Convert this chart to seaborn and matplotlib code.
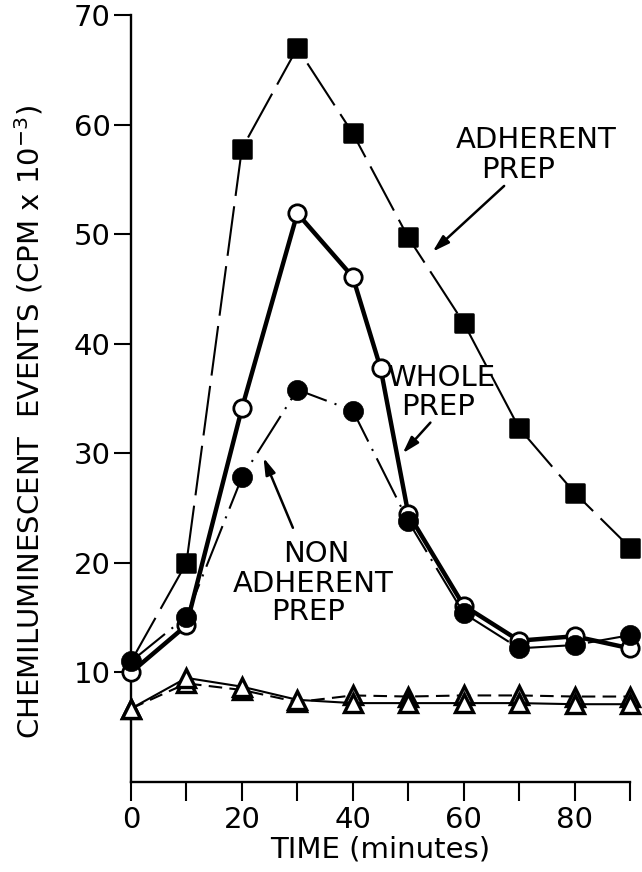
import matplotlib
matplotlib.use("Agg")
import matplotlib.pyplot as plt
from matplotlib.markers import MarkerStyle
import pandas as pd
import seaborn as sns

# Sampling times (minutes)
minutes = [0, 10, 20, 30, 40, 50, 60, 70, 80, 90]
whole_minutes = [0, 10, 20, 30, 40, 45, 50, 60, 70, 80, 90]

# Chemiluminescent events (CPM x 10^-3)
adherent = [11.0, 20.0, 57.8, 67.0, 59.2, 49.7, 41.9, 32.3, 26.4, 21.4]
whole = [10.0, 14.3, 34.1, 51.9, 46.1, 37.8, 24.5, 16.1, 12.9, 13.3, 12.2]
non_adherent = [11.0, 15.1, 27.8, 35.8, 33.9, 23.8, 15.4, 12.2, 12.5, 13.4]
control_solid = [6.7, 9.5, 8.7, 7.5, 7.2, 7.2, 7.2, 7.2, 7.1, 7.1]
control_dashed = [6.7, 9.0, 8.4, 7.3, 7.9, 7.8, 7.9, 7.9, 7.8, 7.8]

x_ticks = [0, 10, 20, 30, 40, 50, 60, 70, 80, 90]
x_tick_labels = ["0", "", "20", "", "40", "", "60", "", "80", ""]
y_ticks = [10, 20, 30, 40, 50, 60, 70]
y_tick_labels = ["10", "20", "30", "40", "50", "60", "70"]

sns.set_style("ticks")
plt.rcParams["font.family"] = ["DejaVu Sans"]
plt.rcParams["text.color"] = "black"
plt.rcParams["axes.labelcolor"] = "black"

fig = plt.figure(figsize=(6.42, 8.72), dpi=100)
ax = fig.add_axes([131 / 642, 1 - 782 / 872, 499 / 642, 767 / 872])

ink = "black"
common = dict(ax=ax, color=ink, errorbar=None, clip_on=False)

df_adh = pd.DataFrame({"t": minutes, "v": adherent})
df_whole = pd.DataFrame({"t": whole_minutes, "v": whole})
df_non = pd.DataFrame({"t": minutes, "v": non_adherent})
df_cs = pd.DataFrame({"t": minutes, "v": control_solid})
df_cd = pd.DataFrame({"t": minutes, "v": control_dashed})

# control preparations (open triangles)
sns.lineplot(data=df_cd, x="t", y="v", linewidth=1.5, linestyle=(0, (6.5, 3.5)),
             marker="^", markersize=13.5, markerfacecolor="white",
             markeredgecolor=ink, markeredgewidth=2.4, zorder=3, **common)
sns.lineplot(data=df_cs, x="t", y="v", linewidth=1.5, linestyle="-",
             marker="^", markersize=13.5, markerfacecolor="white",
             markeredgecolor=ink, markeredgewidth=2.4, zorder=3, **common)

# adherent prep (filled squares, long dashes)
sns.lineplot(data=df_adh, x="t", y="v", linewidth=1.5, linestyle=(0, (24, 5)),
             marker=MarkerStyle("s", joinstyle="round"), markersize=12.5,
             markerfacecolor=ink, markeredgecolor=ink, markeredgewidth=1.8,
             markevery=slice(1, None), zorder=4, **common)

# whole prep (open circles, heavy solid line)
sns.lineplot(data=df_whole, x="t", y="v", linewidth=3.2, linestyle="-",
             marker="o", markersize=12.5, markerfacecolor="white",
             markeredgecolor=ink, markeredgewidth=2.0, zorder=5, **common)

# non-adherent prep (filled circles, dash-dot)
sns.lineplot(data=df_non, x="t", y="v", linewidth=1.5, linestyle=(0, (21, 4, 1, 4)),
             marker="o", markersize=14.5, markerfacecolor=ink,
             markeredgecolor=ink, markeredgewidth=0.5, zorder=6, **common)

ax.set_xlim(0, 90)
ax.set_ylim(0, 70)
ax.set_xticks(x_ticks)
ax.set_xticklabels(x_tick_labels)
ax.set_yticks(y_ticks)
ax.set_yticklabels(y_tick_labels)
sns.despine(ax=ax)
for side in ("left", "bottom"):
    ax.spines[side].set_linewidth(1.7)
    ax.spines[side].set_color(ink)
ax.tick_params(axis="y", length=12, width=1.5, pad=2.5, labelsize=21, colors=ink)
ax.tick_params(axis="x", length=14, width=1.5, pad=3, labelsize=21, colors=ink)

ax.set_xlabel("TIME (minutes)", fontsize=21, labelpad=1, color=ink)
ax.set_ylabel("")
fig.text(29 / 642, 1 - 422 / 872, r"CHEMILUMINESCENT  EVENTS (CPM x 10$^{-3}$)",
         rotation=90, ha="center", va="center", fontsize=21, color=ink)

txt = dict(fontsize=21, ha="center", va="baseline", color=ink, zorder=7)
ax.text(73.1, 57.85, "ADHERENT", **txt)
ax.text(69.8, 55.1, "PREP", **txt)
ax.text(56.0, 36.1, "WHOLE", **txt)
ax.text(55.4, 33.5, "PREP", **txt)
ax.text(33.5, 20.1, "NON", **txt)
ax.text(32.8, 17.3, "ADHERENT", **txt)
ax.text(31.9, 14.8, "PREP", **txt)

arrow = dict(arrowstyle="-|>,head_length=1.0,head_width=0.3", color=ink, lw=1.8,
             shrinkA=0, shrinkB=0)
ax.annotate("", xy=(54.4, 48.4), xytext=(67.3, 54.4), arrowprops=arrow, zorder=7)
ax.annotate("", xy=(49.0, 30.0), xytext=(54.0, 32.8), arrowprops=arrow, zorder=7)
ax.annotate("", xy=(23.9, 29.6), xytext=(29.2, 23.2), arrowprops=arrow, zorder=7)

fig.savefig("out.png", dpi=100)
